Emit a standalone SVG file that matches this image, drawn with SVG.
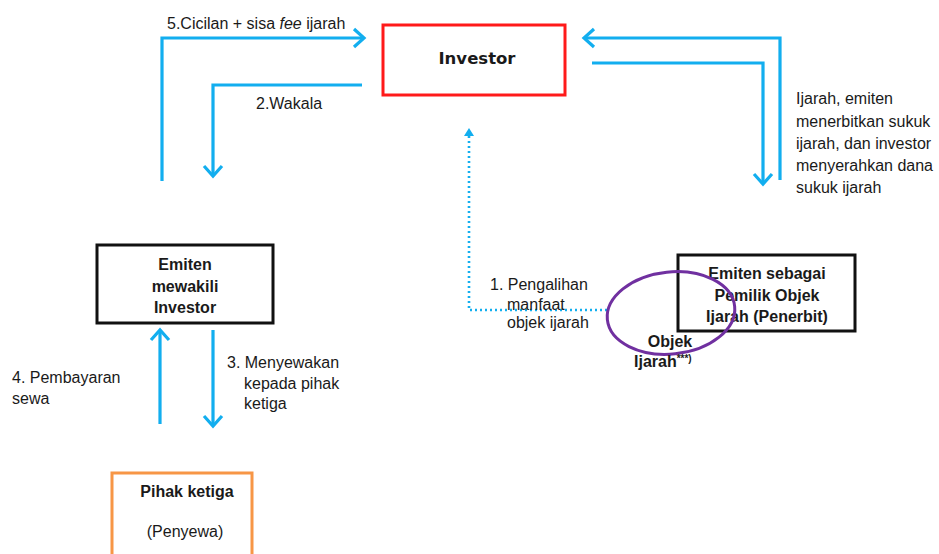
<svg xmlns="http://www.w3.org/2000/svg" width="939" height="554" viewBox="0 0 939 554">
  <style>
    .flow { fill: none; stroke: #12AEEF; stroke-width: 3.2; marker-end: url(#chev); }
    .dot { fill: none; stroke: #12AEEF; stroke-width: 2.6; stroke-dasharray: 2 3; }
    .lbl { font-family: "Liberation Sans", Arial, sans-serif; font-size: 16px; fill: #1a1a1a; }
    .bold { font-family: "Liberation Sans", Arial, sans-serif; font-size: 16px; font-weight: bold; fill: #1a1a1a; text-anchor: middle; }
    .box { fill: #ffffff; stroke-width: 3; }
  </style>
  <defs>
    <marker id="chev" markerUnits="userSpaceOnUse" markerWidth="24" markerHeight="24" viewBox="-12 -12 24 24" refX="0" refY="0" orient="auto" overflow="visible">
      <path d="M -10 -9 L 0 0 L -10 9" fill="none" stroke="#12AEEF" stroke-width="3.2" stroke-linejoin="miter"/>
    </marker>
    <marker id="tri" markerUnits="userSpaceOnUse" markerWidth="12" markerHeight="12" viewBox="-10 -6 12 12" refX="0" refY="0" orient="auto" overflow="visible">
      <path d="M -8 -5 L 0 0 L -8 5 Z" fill="#12AEEF"/>
    </marker>
  </defs>

  <!-- connectors -->
  <g id="connectors">
    <path class="flow" d="M 162 181 L 162 38 L 364 38"/>
    <path class="flow" d="M 362 85 L 213 85 L 213 176"/>
    <path class="flow" d="M 780 180 L 780 38 L 584 38"/>
    <path class="flow" d="M 592 63 L 763 63 L 763 184"/>
    <path class="flow" d="M 160 424 L 160 330"/>
    <path class="flow" d="M 213 330 L 213 426"/>
    <path class="dot" d="M 607 310 L 469 310 L 469 128" marker-end="url(#tri)"/>
  </g>

  <!-- connector labels -->
  <g id="labels">
    <text class="lbl" x="167" y="29">5.Cicilan + sisa <tspan font-style="italic">fee</tspan> ijarah</text>
    <text class="lbl" x="256" y="109">2.Wakala</text>
    <text class="lbl" x="796" y="104">Ijarah, emiten</text>
    <text class="lbl" x="796" y="127">menerbitkan sukuk</text>
    <text class="lbl" x="796" y="149">ijarah, dan investor</text>
    <text class="lbl" x="796" y="171">menyerahkan dana</text>
    <text class="lbl" x="796" y="193">sukuk ijarah</text>
    <text class="lbl" x="227" y="368">3. Menyewakan</text>
    <text class="lbl" x="244" y="389">kepada pihak</text>
    <text class="lbl" x="244" y="409">ketiga</text>
    <text class="lbl" x="12" y="383">4. Pembayaran</text>
    <text class="lbl" x="12" y="404">sewa</text>
    <text class="lbl" x="490" y="290">1. Pengalihan</text>
    <text class="lbl" x="507" y="310">manfaat</text>
    <text class="lbl" x="507" y="328">objek ijarah</text>
  </g>

  <g id="investor">
    <rect class="box" x="383" y="25" width="182" height="70" stroke="#FF1A1A"/>
    <text x="477" y="64" font-family="'DejaVu Sans', sans-serif" font-size="16.5" font-weight="bold" fill="#1a1a1a" text-anchor="middle">Investor</text>
  </g>

  <g id="emiten-wakil">
    <rect class="box" x="97" y="245" width="176" height="78" stroke="#111"/>
    <text class="bold" x="185" y="270">Emiten</text>
    <text class="bold" x="185" y="292">mewakili</text>
    <text class="bold" x="185" y="313">Investor</text>
  </g>

  <g id="pihak-ketiga">
    <rect class="box" x="112" y="473" width="140" height="90" stroke="#F79646"/>
    <text class="bold" x="187" y="497">Pihak ketiga</text>
    <text class="lbl" x="185" y="537" text-anchor="middle">(Penyewa)</text>
  </g>

  <g id="emiten-pemilik">
    <rect class="box" x="678" y="255" width="177" height="76" stroke="#111"/>
    <text class="bold" x="767" y="279">Emiten sebagai</text>
    <text class="bold" x="767" y="301">Pemilik Objek</text>
    <text class="bold" x="767" y="322">Ijarah (Penerbit)</text>
  </g>

  <g id="objek-ijarah">
    <ellipse cx="671" cy="313" rx="64" ry="41" fill="none" stroke="#7030A0" stroke-width="3" transform="rotate(-6 671 313)"/>
    <text class="lbl" x="670" y="347" text-anchor="middle" font-weight="bold">Objek</text>
    <text class="lbl" x="634" y="367" font-weight="bold">Ijarah<tspan font-size="10" dy="-5">***)</tspan></text>
  </g>
</svg>
